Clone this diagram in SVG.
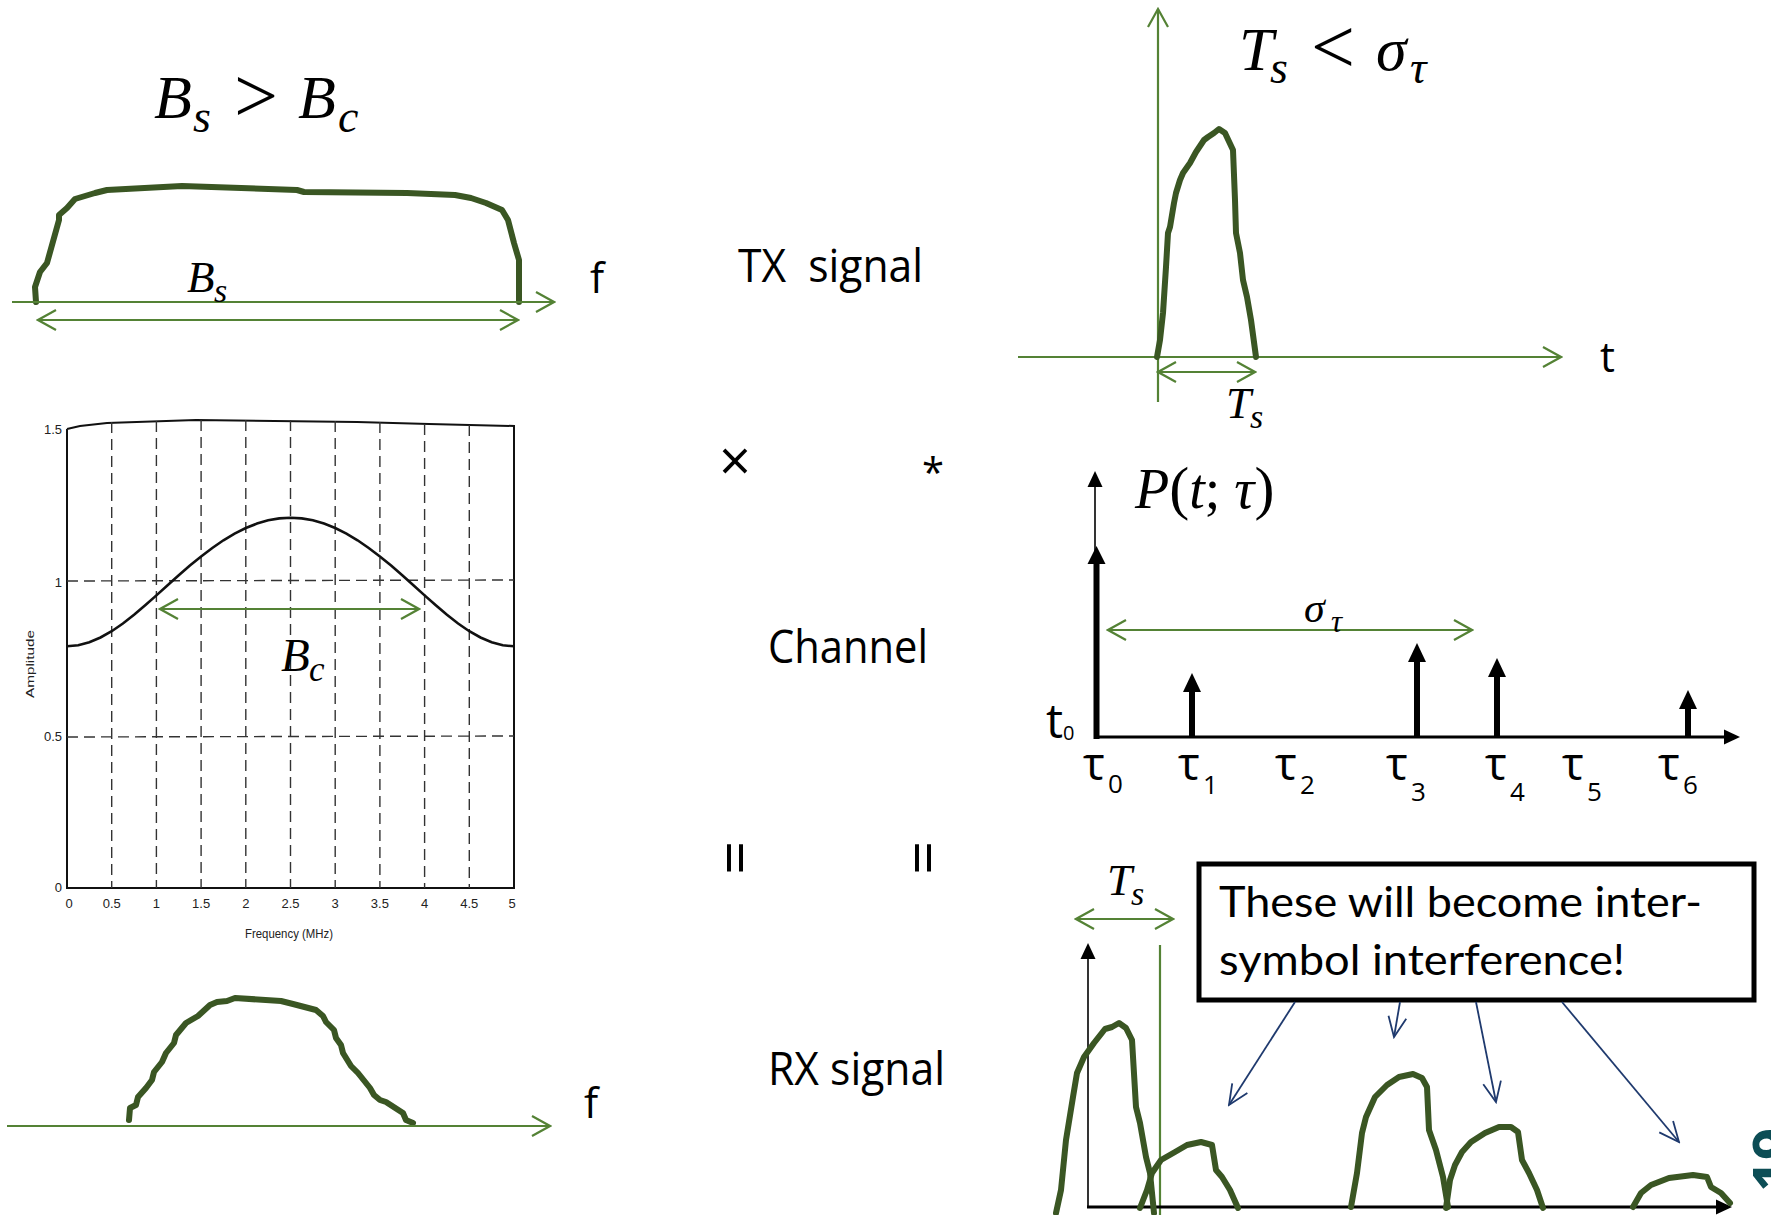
<svg xmlns="http://www.w3.org/2000/svg" width="1771" height="1215" viewBox="0 0 1771 1215">
<style>
.thick{fill:none;stroke:#3a5623;stroke-width:6;stroke-linejoin:round;stroke-linecap:round}
.gthin{fill:none;stroke:#548235;stroke-width:2.2}
.ax{fill:none;stroke:#000;stroke-width:3}
.axt{fill:none;stroke:#000;stroke-width:1.6}
.imp{fill:none;stroke:#000;stroke-width:6}
.navy{fill:none;stroke:#1f3a6e;stroke-width:1.8}
.m{font-family:"Liberation Serif",serif;font-style:italic;fill:#000}
.mn{font-family:"Liberation Serif",serif;font-style:normal;fill:#000}
.s{font-family:"Open Sans",sans-serif;fill:#000}
.box{font-family:Lato,"Open Sans",sans-serif;fill:#000}
.tick{font-family:"Liberation Sans",sans-serif;font-size:13px;fill:#222}
.grid{fill:none;stroke:#333;stroke-width:1.4;stroke-dasharray:11 6}
.frame{fill:none;stroke:#111;stroke-width:2}
</style>
<defs>
<marker id="gch" viewBox="-20 -12 22 24" refX="0" refY="0" markerWidth="22" markerHeight="24" markerUnits="userSpaceOnUse" orient="auto-start-reverse">
<path d="M-18,-10 L0,0 L-18,10" fill="none" stroke="#548235" stroke-width="2.2"/>
</marker>
<marker id="nch" viewBox="-22 -12 24 24" refX="0" refY="0" markerWidth="24" markerHeight="24" markerUnits="userSpaceOnUse" orient="auto">
<path d="M-20,-9 L0,0 L-20,9" fill="none" stroke="#1f3a6e" stroke-width="1.8"/>
</marker>
<marker id="bt" viewBox="-18 -9 19 18" refX="-6" refY="0" markerWidth="19" markerHeight="18" markerUnits="userSpaceOnUse" orient="auto">
<path d="M-16,-7.5 L0,0 L-16,7.5 Z" fill="#000"/>
</marker>
</defs>
<rect x="0" y="0" width="1771" height="1215" fill="#fff"/>

<!-- TX spectrum -->
<g id="tx-spectrum">
<text class="m" font-size="62"><tspan x="154" y="118">B</tspan><tspan x="193" y="132" font-size="46">s</tspan></text>
<text class="mn" font-size="78" x="234" y="122">&gt;</text>
<text class="m" font-size="62"><tspan x="298" y="118">B</tspan><tspan x="338" y="132" font-size="46">c</tspan></text>
<polyline class="thick" points="36,302 35,287 40,272 47,263 59,220 59,215 67,208 75,199 95,193 107,190 182,186 297,190 304,192 407,193 455,195 471,198 486,203 502,210 508,220 514,243 519,260 519,302"/>
<line class="gthin" x1="12" y1="302" x2="554" y2="302" marker-end="url(#gch)"/>
<line class="gthin" x1="38" y1="320" x2="518" y2="320" marker-start="url(#gch)" marker-end="url(#gch)"/>
<text class="m" font-size="45"><tspan x="187" y="292">B</tspan><tspan x="214" y="302" font-size="34">s</tspan></text>
<text class="s" font-size="42" x="590" y="293">f</text>
</g>

<!-- Channel frequency response -->
<g id="channel-freq">
<polyline class="frame" points="67,429 80,426 107,423 196,420 357,422 429,424 514,426 514,888 67,888 67,429"/>
<g class="grid">
<line x1="111.7" y1="422" x2="111.7" y2="888"/>
<line x1="156.4" y1="421" x2="156.4" y2="888"/>
<line x1="201.1" y1="420" x2="201.1" y2="888"/>
<line x1="245.8" y1="420" x2="245.8" y2="888"/>
<line x1="290.5" y1="420" x2="290.5" y2="888"/>
<line x1="335.2" y1="421" x2="335.2" y2="888"/>
<line x1="379.9" y1="422" x2="379.9" y2="888"/>
<line x1="424.6" y1="424" x2="424.6" y2="888"/>
<line x1="469.3" y1="425" x2="469.3" y2="888"/>
<line x1="67" y1="581" x2="514" y2="580"/>
<line x1="67" y1="737" x2="514" y2="736"/>
</g>
<polyline fill="none" stroke="#111" stroke-width="2.6" points="67,646.3 78.2,645.3 89.35,642.3 100.5,637.5 111.7,631.2 122.9,623.5 134.05,614.8 145.2,605.3 156.4,595.4 167.6,585.3 178.75,575.3 189.9,565.6 201.1,556.5 212.3,548 223.45,540.3 234.6,533.6 245.8,528 257,523.6 268.15,520.3 279.3,518.4 290.5,517.7 301.7,518.4 312.85,520.3 324,523.6 335.2,528 346.4,533.6 357.55,540.3 368.7,548 379.9,556.5 391.1,565.6 402.25,575.3 413.4,585.3 424.6,595.4 435.8,605.3 446.95,614.8 458.1,623.5 469.3,631.2 480.5,637.5 491.65,642.3 502.8,645.3 514,646.3"/>
<g class="tick" text-anchor="end">
<text x="62" y="434">1.5</text>
<text x="62" y="587">1</text>
<text x="62" y="741">0.5</text>
<text x="62" y="892">0</text>
</g>
<g class="tick" text-anchor="middle">
<text x="69" y="908">0</text>
<text x="111.7" y="908">0.5</text>
<text x="156.4" y="908">1</text>
<text x="201.1" y="908">1.5</text>
<text x="245.8" y="908">2</text>
<text x="290.5" y="908">2.5</text>
<text x="335.2" y="908">3</text>
<text x="379.9" y="908">3.5</text>
<text x="424.6" y="908">4</text>
<text x="469.3" y="908">4.5</text>
<text x="512" y="908">5</text>
<text x="289" y="938" textLength="88" lengthAdjust="spacingAndGlyphs">Frequency (MHz)</text>
<text transform="translate(34,664) rotate(-90)" font-size="11" textLength="68" lengthAdjust="spacingAndGlyphs">Amplitude</text>
</g>
<line class="gthin" x1="160" y1="609" x2="419" y2="609" marker-start="url(#gch)" marker-end="url(#gch)"/>
<text class="m" font-size="47"><tspan x="281" y="671">B</tspan><tspan x="309" y="681" font-size="35">c</tspan></text>
</g>

<!-- RX spectrum -->
<g id="rx-spectrum">
<polyline class="thick" stroke-width="5.5" points="129,1120 130,1108 136,1105 138,1097 146,1088 152,1080 154,1072 162,1062 166,1053 174,1043 176,1035 186,1023 198,1016 210,1005 217,1002 227,1001 235,998 281,1001 293,1004 316,1010 323,1016 326,1022 334,1030 336,1038 341,1045 343,1053 351,1066 358,1073 370,1088 374,1095 380,1100 386,1102 403,1113 406,1120 413,1123"/>
<line class="gthin" x1="7" y1="1126" x2="550" y2="1126" marker-end="url(#gch)"/>
<text class="s" font-size="42" x="584" y="1118">f</text>
</g>

<!-- middle labels -->
<g id="labels-middle">
<text class="s" font-size="46" x="738" y="282" textLength="185" lengthAdjust="spacingAndGlyphs" xml:space="preserve">TX  signal</text>
<text class="s" font-size="56" x="735" y="481" text-anchor="middle">×</text>
<text class="s" font-size="40" x="933" y="487" text-anchor="middle">*</text>
<text class="s" font-size="46" x="768" y="663" textLength="160" lengthAdjust="spacingAndGlyphs">Channel</text>
<text class="s" font-size="60" transform="translate(735,858) rotate(90)" x="0" y="21" text-anchor="middle">=</text>
<text class="s" font-size="60" transform="translate(923,858) rotate(90)" x="0" y="21" text-anchor="middle">=</text>
<text class="s" font-size="46" x="768" y="1085" textLength="177" lengthAdjust="spacingAndGlyphs">RX signal</text>
</g>

<!-- TX pulse -->
<g id="tx-pulse">
<text class="m" font-size="62"><tspan x="1239" y="70">T</tspan><tspan x="1270" y="83" font-size="46">s</tspan></text>
<text class="mn" font-size="78" x="1311" y="73">&lt;</text>
<text class="m" font-size="62"><tspan x="1376" y="70">σ</tspan><tspan x="1410" y="83" font-size="46">τ</tspan></text>
<line class="gthin" x1="1158" y1="402" x2="1158" y2="9" marker-end="url(#gch)"/>
<line class="gthin" x1="1018" y1="357" x2="1561" y2="357" marker-end="url(#gch)"/>
<polyline class="thick" points="1157,357 1160,340 1163,313 1166,267 1168,233 1170,227 1174,203 1176,193 1180,180 1183,173 1190,163 1196,152 1204,140 1208,137 1214,133 1219,129 1225,133 1233,150 1235,200 1236,233 1240,253 1243,280 1247,297 1251,320 1256,357"/>
<line class="gthin" x1="1158" y1="372" x2="1255" y2="372" marker-start="url(#gch)" marker-end="url(#gch)"/>
<text class="m" font-size="45"><tspan x="1226" y="418">T</tspan><tspan x="1250" y="428" font-size="34">s</tspan></text>
<text class="s" font-size="42" x="1600" y="372">t</text>
</g>

<!-- Channel impulse response -->
<g id="channel-impulse">
<line class="axt" x1="1095" y1="737" x2="1095" y2="477" marker-end="url(#bt)"/>
<line class="ax" x1="1094" y1="737" x2="1734" y2="737" marker-end="url(#bt)"/>
<line class="imp" stroke-width="7" x1="1096.5" y1="739" x2="1096.5" y2="560"/>
<polygon points="1087.5,564 1096.5,546 1105.5,564" fill="#000"/>
<line class="imp" x1="1192" y1="737" x2="1192" y2="688"/>
<polygon points="1183,692 1192,673 1201,692" fill="#000"/>
<line class="imp" x1="1417" y1="737" x2="1417" y2="658"/>
<polygon points="1408,662 1417,643 1426,662" fill="#000"/>
<line class="imp" x1="1497" y1="737" x2="1497" y2="673"/>
<polygon points="1488,677 1497,658 1506,677" fill="#000"/>
<line class="imp" x1="1688" y1="737" x2="1688" y2="705"/>
<polygon points="1679,709 1688,690 1697,709" fill="#000"/>
<text font-size="56"><tspan class="m" x="1135" y="508">P</tspan><tspan class="mn" font-size="60">(</tspan><tspan class="m">t</tspan><tspan class="mn">; </tspan><tspan class="m">τ</tspan><tspan class="mn" font-size="60">)</tspan></text>
<line class="gthin" x1="1108" y1="630" x2="1472" y2="630" marker-start="url(#gch)" marker-end="url(#gch)"/>
<text class="m" font-size="42"><tspan x="1304" y="622">σ</tspan><tspan x="1331" y="632" font-size="31">τ</tspan></text>
<text class="s" font-size="48"><tspan x="1046" y="738">t</tspan><tspan x="1063" y="740" font-size="20">0</tspan></text>
<g class="s" font-size="46">
<text><tspan x="1083" y="780">τ</tspan><tspan x="1108" y="793" font-size="26">0</tspan></text>
<text><tspan x="1178" y="780">τ</tspan><tspan x="1203" y="794" font-size="26">1</tspan></text>
<text><tspan x="1275" y="780">τ</tspan><tspan x="1300" y="794" font-size="26">2</tspan></text>
<text><tspan x="1386" y="780">τ</tspan><tspan x="1411" y="801" font-size="26">3</tspan></text>
<text><tspan x="1485" y="780">τ</tspan><tspan x="1510" y="801" font-size="26">4</tspan></text>
<text><tspan x="1562" y="780">τ</tspan><tspan x="1587" y="801" font-size="26">5</tspan></text>
<text><tspan x="1658" y="780">τ</tspan><tspan x="1683" y="794" font-size="26">6</tspan></text>
</g>
</g>

<!-- RX pulses -->
<g id="rx-pulses">
<text class="m" font-size="45"><tspan x="1107" y="895">T</tspan><tspan x="1131" y="905" font-size="34">s</tspan></text>
<line class="gthin" x1="1076" y1="919" x2="1173" y2="919" marker-start="url(#gch)" marker-end="url(#gch)"/>
<line class="gthin" x1="1160" y1="945" x2="1160" y2="1215"/>
<line class="axt" stroke-width="2.4" x1="1088" y1="1208" x2="1088" y2="949" marker-end="url(#bt)"/>
<line class="ax" x1="1087" y1="1207" x2="1726" y2="1207" marker-end="url(#bt)"/>
<polyline class="thick" points="1056,1213 1061,1190 1066,1140 1073,1097 1077,1073 1084,1057 1094,1043 1105,1029 1112,1027 1119,1023 1126,1028 1132,1040 1136,1107 1140,1123 1146,1157 1150,1173 1154,1213"/>
<polyline class="thick" points="1140,1208 1147,1190 1152,1173 1161,1160 1175,1152 1187,1145 1201,1142 1212,1145 1216,1170 1222,1177 1230,1190 1238,1208"/>
<polyline class="thick" points="1351,1207 1357,1173 1362,1133 1366,1117 1375,1097 1387,1085 1399,1077 1413,1074 1422,1078 1427,1087 1429,1130 1436,1150 1443,1177 1448,1207"/>
<polyline class="thick" points="1446,1208 1450,1180 1455,1165 1462,1152 1471,1142 1485,1133 1499,1127 1511,1127 1518,1132 1522,1160 1529,1173 1537,1190 1543,1208"/>
<polyline class="thick" points="1633,1207 1641,1193 1651,1185 1669,1178 1693,1175 1707,1177 1711,1187 1721,1193 1730,1203"/>
</g>

<!-- callout box -->
<g id="isi-box">
<rect x="1199" y="864" width="555" height="136" fill="#fff" stroke="#000" stroke-width="5"/>
<text class="box" font-size="42" x="1219" y="917" textLength="483" lengthAdjust="spacingAndGlyphs">These will become inter-</text>
<text class="box" font-size="42" x="1219" y="975" textLength="406" lengthAdjust="spacingAndGlyphs">symbol interference!</text>
</g>

<!-- connectors -->
<g id="connectors">
<line class="navy" x1="1295" y1="1002" x2="1229" y2="1105" marker-end="url(#nch)"/>
<line class="navy" x1="1400" y1="1002" x2="1394" y2="1037" marker-end="url(#nch)"/>
<line class="navy" x1="1476" y1="1002" x2="1496" y2="1102" marker-end="url(#nch)"/>
<line class="navy" x1="1562" y1="1002" x2="1679" y2="1142" marker-end="url(#nch)"/>
</g>

<g id="page-number">
<text font-family="'Open Sans',sans-serif" font-weight="bold" font-size="56" fill="#0c4d55" transform="translate(1793,1192) rotate(-90)">19</text>
</g>
</svg>
